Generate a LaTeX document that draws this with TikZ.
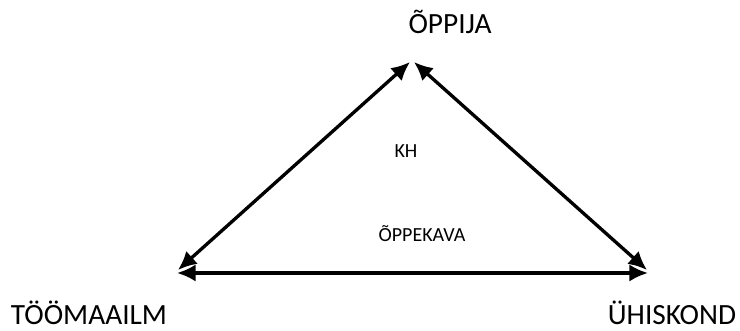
\documentclass[tikz,border=0pt]{standalone}
\usepackage{fontspec}
\setmainfont{Carlito}
\usetikzlibrary{arrows.meta}

\begin{document}
\begin{tikzpicture}[x=0.75pt,y=-0.75pt,
    biglabel/.style={font=\fontsize{22}{26}\selectfont,anchor=base,inner sep=0pt},
    smalllabel/.style={font=\fontsize{15}{18}\selectfont,anchor=base,inner sep=0pt},
    arrow/.style={{Latex[length=14pt,width=13pt]}-{Latex[length=14pt,width=13pt]},line width=2.5pt}
  ]
    \useasboundingbox (0,0) rectangle (740,331);
    % corners of the triangle
    \coordinate (topL) at (410,62);
    \coordinate (topR) at (414,62);
    \coordinate (leftA) at (178,270);
    \coordinate (leftB) at (177,273);
    \coordinate (rightA) at (647,270);
    \coordinate (rightB) at (648,273);
    \draw[arrow] (leftA) -- (topL);
    \draw[arrow] (topR) -- (rightA);
    \draw[arrow] (leftB) -- (rightB);
    % labels
    \node[biglabel] (oppija) at (450,34) {ÕPPIJA};
    \node[smalllabel] (kh) at (406,158) {KH};
    \node[smalllabel] (oppekava) at (422,242) {ÕPPEKAVA};
    \node[biglabel] (toomaailm) at (89,325) {TÖÖMAAILM};
    \node[biglabel] (uhiskond) at (672,325) {ÜHISKOND};
  \end{tikzpicture}
\end{document}
